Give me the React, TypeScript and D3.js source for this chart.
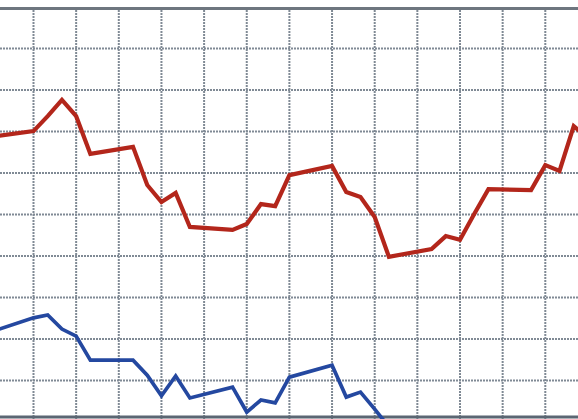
import React from "react";
import * as d3 from "d3";

// trading-day index (weekends skipped), and values on a 0–100 scale
const days = [-3, 0, 1, 2, 3, 4, 7, 8, 9, 10, 11, 14, 15, 16, 17, 18, 21, 22, 23, 24, 25, 28, 29, 30, 31, 32, 35, 36, 37, 38, 39];
const redValues = [68.7, 70.1, 73.7, 77.6, 73.7, 64.6, 66.3, 57.1, 53.0, 55.2, 47.0, 46.3, 47.7, 52.5, 52.0, 59.5, 61.7, 55.4, 54.2, 49.4, 39.8, 41.7, 44.8, 43.9, 50.1, 56.1, 55.9, 61.9, 60.5, 71.3, 68.4];
const blueDays = [-3, 0, 1, 2, 3, 4, 7, 8, 9, 10, 11, 14, 15, 16, 17, 18, 21, 22, 23, 24, 25];
const blueValues = [21.7, 25.1, 25.8, 22.4, 20.7, 14.9, 14.9, 11.3, 6.3, 11.1, 5.8, 8.4, 2.4, 5.3, 4.6, 10.8, 13.7, 6.0, 7.2, 3.1, -1.2];
const xGridDays = [-3, 0, 3, 6, 9, 12, 15, 18, 21, 24, 27, 30, 33, 36, 39];
const yGridValues = [10, 20, 30, 40, 50, 60, 70, 80, 90];

const W = 578;
const H = 419;

export default function App() {
  const x = d3.scaleLinear().domain([0, 36]).range([33.5, 545.3]);
  const y = d3.scaleLinear().domain([0, 100]).range([422, 7]);

  const line = d3
    .line<[number, number]>()
    .x((d) => x(d[0]))
    .y((d) => y(d[1]));

  const redPts: [number, number][] = days.map((d, i) => [d, redValues[i]]);
  const bluePts: [number, number][] = blueDays.map((d, i) => [d, blueValues[i]]);

  const gridColor = "#808a95";

  return (
    <svg
      width={W}
      height={H}
      style={{ position: "absolute", left: 0, top: 0, background: "#fff" }}
    >
      <defs>
        <clipPath id="clip">
          <rect x={0} y={0} width={W} height={H} />
        </clipPath>
      </defs>
      <rect x={0} y={0} width={W} height={H} fill="#fff" />
      <g>
        {yGridValues.map((v) => (
          <line
            key={"h" + v}
            x1={0}
            x2={W}
            y1={y(v)}
            y2={y(v)}
            stroke={gridColor}
            strokeWidth={2}
            strokeDasharray="2 1"
          />
        ))}
        {xGridDays.map((d) => (
          <line
            key={"v" + d}
            x1={x(d)}
            x2={x(d)}
            y1={y(100)}
            y2={H}
            stroke={gridColor}
            strokeWidth={2}
            strokeDasharray="2 1"
          />
        ))}
      </g>
      <line x1={0} x2={W} y1={y(100) + 1.5} y2={y(100) + 1.5} stroke="#6e767f" strokeWidth={3} />
      <line x1={0} x2={W} y1={H - 2} y2={H - 2} stroke="#5b6673" strokeWidth={3} />
      <g clipPath="url(#clip)">
        <path
          d={line(redPts) || ""}
          fill="none"
          stroke="#b3261b"
          strokeWidth={4.2}
          strokeLinejoin="miter"
        />
        <path
          d={line(bluePts) || ""}
          fill="none"
          stroke="#2448a0"
          strokeWidth={3.7}
          strokeLinejoin="miter"
        />
      </g>
    </svg>
  );
}
